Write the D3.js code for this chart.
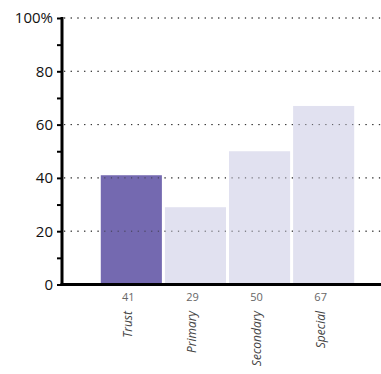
<!DOCTYPE html>
<html><head><meta charset="utf-8">
<script src="https://cdn.jsdelivr.net/npm/d3@7"></script>
<style>body{margin:0;background:#fff}svg{display:block}</style>
</head><body>
<svg id="c" width="381" height="374"></svg>
<script>
const categories = ["Trust","Primary","Secondary","Special"];
const values = [41, 29, 50, 67];
const highlight = ["Trust"];
const majorTicks = [0,20,40,60,80,100];
const minorTicks = [10,30,50,70,90];

const svg = d3.select("#c");
const font = "'Open Sans', sans-serif";
const axisX = 62, x0 = 99.5, x1 = 355.5;
const y = d3.scaleLinear().domain([0,100]).range([284.5, 18]);
const x = d3.scaleBand().domain(categories).range([x0, x1]).paddingInner(3/64).paddingOuter(0.02);

// grid
svg.append("g").selectAll("line").data(majorTicks.filter(d=>d>0)).join("line")
  .attr("x1", axisX+2).attr("x2", 381).attr("y1", d=>y(d)).attr("y2", d=>y(d))
  .attr("stroke","#333").attr("stroke-width",1).attr("stroke-dasharray","1.2,5.5");

// bars
svg.append("g").selectAll("rect").data(categories).join("rect")
  .attr("x", d=>x(d)).attr("width", x.bandwidth())
  .attr("y", (d,i)=>y(values[i])).attr("height", (d,i)=>y(0)-y(values[i]))
  .attr("fill", d=>highlight.includes(d) ? "#7469b0" : "#e1e1f0");

// grid over bars (dots appear on bars)
svg.append("g").selectAll("line").data(majorTicks.filter(d=>d>0)).join("line")
  .attr("x1", axisX+2).attr("x2", 381).attr("y1", d=>y(d)).attr("y2", d=>y(d))
  .attr("stroke","#333").attr("stroke-opacity",0.8).attr("stroke-width",1).attr("stroke-dasharray","1.2,5.5");

// y axis
const yAxis = d3.axisLeft(y).tickValues(majorTicks).tickSize(5).tickPadding(4)
  .tickFormat(d=> d===100 ? "100%" : d);
const ga = svg.append("g").attr("transform",`translate(${axisX},0)`).call(yAxis);
ga.select(".domain").remove();
ga.selectAll(".tick line").attr("stroke","#000").attr("stroke-width",2);
ga.selectAll(".tick text").attr("font-family",font).attr("font-size",15).attr("fill","#111");
const gm = svg.append("g").attr("transform",`translate(${axisX},0)`)
  .call(d3.axisLeft(y).tickValues(minorTicks).tickSize(5).tickFormat(""));
gm.select(".domain").remove();
gm.selectAll(".tick line").attr("stroke","#000").attr("stroke-width",2);

svg.append("line").attr("x1",axisX).attr("x2",axisX).attr("y1",y(100)-1).attr("y2",y(0)+1.5)
  .attr("stroke","#000").attr("stroke-width",3);
svg.append("line").attr("x1",axisX-1.5).attr("x2",381).attr("y1",y(0)).attr("y2",y(0))
  .attr("stroke","#000").attr("stroke-width",3);

// value labels
svg.append("g").selectAll("text").data(categories).join("text")
  .attr("x", d=>x(d)+x.bandwidth()/2-3).attr("y", 301)
  .attr("text-anchor","middle").attr("font-family",font).attr("font-size",11).attr("fill","#666")
  .text((d,i)=>values[i]);

// category labels
svg.append("g").selectAll("text").data(categories).join("text")
  .attr("transform", d=>`translate(${x(d)+x.bandwidth()/2+1},311) rotate(-90)`)
  .attr("text-anchor","end").attr("font-family",font).attr("font-size",12)
  .attr("font-style","italic").attr("fill","#444")
  .text(d=>d);
</script>
</body></html>
